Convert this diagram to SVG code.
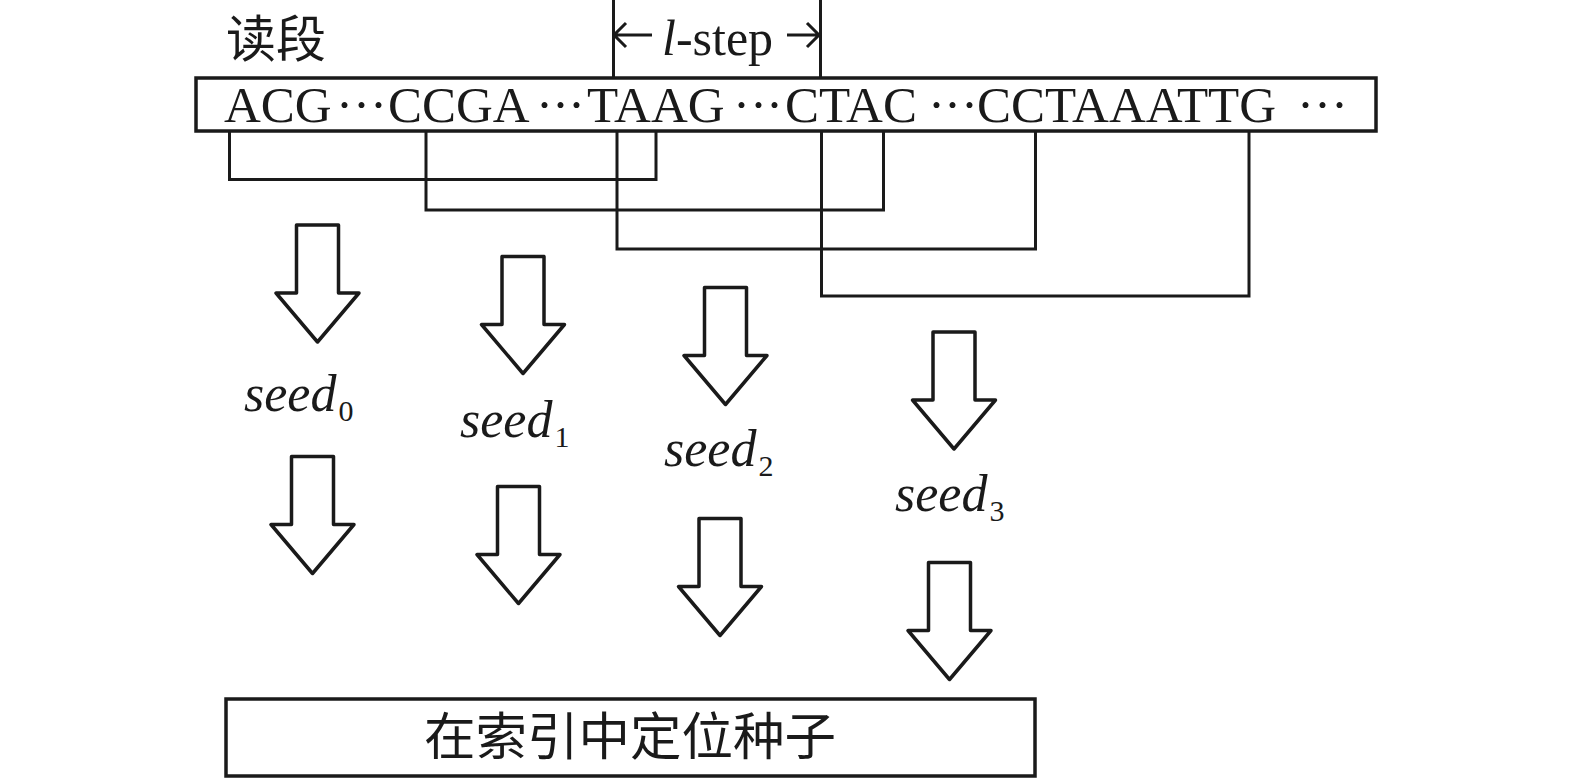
<svg xmlns="http://www.w3.org/2000/svg" width="1575" height="778" viewBox="0 0 1575 778">
  <style>
    .ln { fill: none; stroke: #1a1a1a; stroke-width: 3; }
    .arw { fill: #ffffff; stroke: #1a1a1a; stroke-width: 3.5; stroke-linejoin: round; }
    .box { fill: #ffffff; stroke: #1a1a1a; stroke-width: 3.5; }
    .ser { font-family: "Liberation Serif", "Times New Roman", serif; fill: #1a1a1a; }
    .cjk { font-family: "Noto Sans CJK SC", "Noto Sans", sans-serif; fill: #1a1a1a; }
    .seed { font-family: "Liberation Serif", "Times New Roman", serif; font-style: italic; font-size: 52px; fill: #1a1a1a; }
    .sub { font-style: normal; font-size: 30px; }
  </style>
  <defs>
    <path id="blockArrow" class="arw" d="M -21 0 H 21 V 68 H 41.5 L 0 117 L -41.5 68 H -21 Z"/>
  </defs>
  <rect width="1575" height="778" fill="#ffffff"/>

  <g id="label-read">
    <text class="cjk" x="226" y="57" font-size="50">读段</text>
  </g>

  <g id="lstep">
    <line class="ln" x1="613.5" y1="0" x2="613.5" y2="78"/>
    <line class="ln" x1="820.5" y1="0" x2="820.5" y2="78"/>
    <path class="ln" stroke-width="2.5" d="M 614 35 H 652 M 626 23 L 614 35 L 626 47"/>
    <path class="ln" stroke-width="2.5" d="M 787 35 H 819 M 807 23 L 819 35 L 807 47"/>
    <text class="ser" x="662" y="55" font-size="50"><tspan font-style="italic">l</tspan>-step</text>
  </g>

  <g id="read">
    <rect class="box" x="196" y="78" width="1180" height="53"/>
    <text class="ser" y="122" font-size="51">
      <tspan x="224">ACG</tspan>
      <tspan x="336 353 370">···</tspan>
      <tspan x="388">CCGA</tspan>
      <tspan x="536 552 568">···</tspan>
      <tspan x="587">TAAG</tspan>
      <tspan x="733 750 766">···</tspan>
      <tspan x="785">CTAC</tspan>
      <tspan x="928 944 961">···</tspan>
      <tspan x="977">CCTAAATTG</tspan>
      <tspan x="1297 1314 1331">···</tspan>
    </text>
  </g>

  <g id="connectors">
    <path class="ln" d="M 229.5 131 V 179.5 H 656 V 131"/>
    <path class="ln" d="M 426 131 V 210 H 883.5 V 131"/>
    <path class="ln" d="M 617 131 V 249 H 1035.5 V 131"/>
    <path class="ln" d="M 821.5 131 V 296 H 1249 V 131"/>
  </g>

  <g id="seed0">
    <use href="#blockArrow" x="317.5" y="225"/>
    <text class="seed" x="244" y="411">seed<tspan class="sub" dx="2" dy="10">0</tspan></text>
    <use href="#blockArrow" x="312.5" y="456.5"/>
  </g>
  <g id="seed1">
    <use href="#blockArrow" x="523" y="256.5"/>
    <text class="seed" x="460" y="437">seed<tspan class="sub" dx="2" dy="10">1</tspan></text>
    <use href="#blockArrow" x="518.5" y="486.5"/>
  </g>
  <g id="seed2">
    <use href="#blockArrow" x="725.5" y="287.5"/>
    <text class="seed" x="664" y="466">seed<tspan class="sub" dx="2" dy="10">2</tspan></text>
    <use href="#blockArrow" x="720" y="518.5"/>
  </g>
  <g id="seed3">
    <use href="#blockArrow" x="954" y="332"/>
    <text class="seed" x="895" y="511">seed<tspan class="sub" dx="2" dy="10">3</tspan></text>
    <use href="#blockArrow" x="949.5" y="562.5"/>
  </g>

  <g id="locate">
    <rect class="box" x="226" y="699" width="809" height="77"/>
    <text class="cjk" x="630" y="755" font-size="51.5" text-anchor="middle">在索引中定位种子</text>
  </g>
</svg>
